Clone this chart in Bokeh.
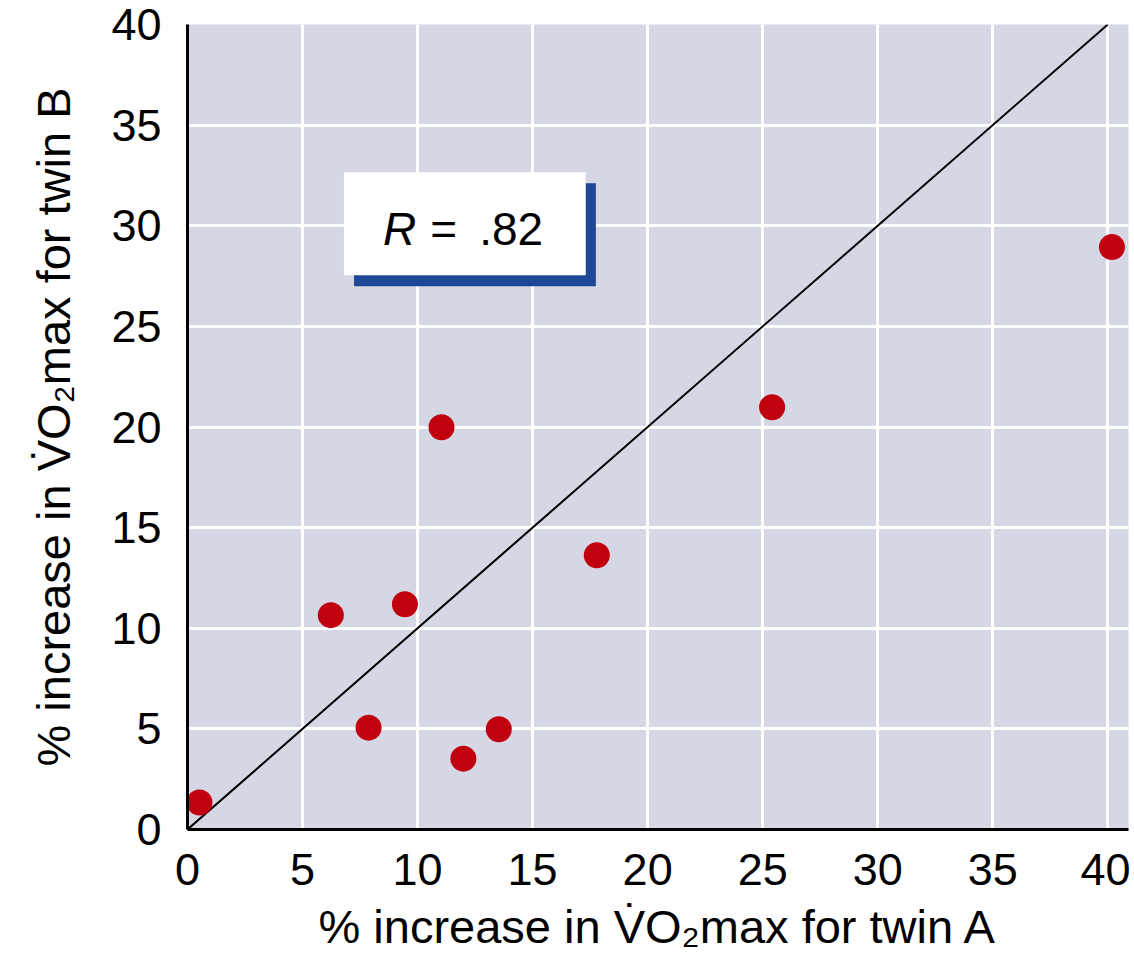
from bokeh.plotting import figure
from bokeh.models import Range1d, Label, FixedTicker, ColumnDataSource
from bokeh.embed import file_html
from bokeh.resources import INLINE

# Data
twin_a = [0.52, 6.23, 7.87, 9.45, 11.04, 11.99, 13.53, 17.79, 25.41, 40.18]
twin_b = [1.34, 10.65, 5.06, 11.19, 19.99, 3.52, 4.98, 13.63, 20.98, 28.94]
identity_x = [0, 40]
identity_y = [0, 40]
ticks = [0, 5, 10, 15, 20, 25, 30, 35, 40]
r_value = ".82"

FONT = "Liberation Sans"
BG = "#d5d7e4"
RED = "#c0000f"
BLUE = "#1e4797"

p = figure(width=1130, height=955, output_backend="svg", toolbar_location=None,
           x_range=Range1d(0, 40.9), y_range=Range1d(0, 40),
           min_border_left=187, min_border_right=2, min_border_top=24,
           min_border_bottom=125)
p.outline_line_color = None
p.background_fill_color = BG
p.border_fill_color = "white"

for ax in (p.xaxis[0], p.yaxis[0]):
    ax.ticker = FixedTicker(ticks=ticks)
    ax.axis_line_color = "black"
    ax.axis_line_width = 3
    ax.major_tick_line_color = None
    ax.minor_tick_line_color = None
    ax.major_label_text_font = FONT
    ax.major_label_text_font_size = "45px"
    ax.major_label_text_color = "black"
    ax.axis_label_text_font = FONT
    ax.axis_label_text_font_size = "47px"
    ax.axis_label_text_font_style = "normal"
    ax.axis_label_text_color = "black"

p.xaxis.axis_label = "% increase in V\u0307O\u2082max for twin A"
p.yaxis.axis_label = "% increase in V\u0307O\u2082max for twin B"
p.xaxis.major_label_standoff = 18
p.xaxis.axis_label_standoff = 12
p.yaxis.major_label_standoff = 20
p.yaxis.axis_label_standoff = 28

p.xgrid.ticker = FixedTicker(ticks=ticks)
p.ygrid.ticker = FixedTicker(ticks=ticks)
p.grid.grid_line_color = "white"
p.grid.grid_line_width = 3

# identity line
p.line(identity_x, identity_y, line_color="black", line_width=2)

# R box with shadow
p.quad(left=[7.24], right=[17.75], top=[32.11], bottom=[27.0],
       fill_color=BLUE, line_color=None)
p.quad(left=[6.80], right=[17.31], top=[32.66], bottom=[27.54],
       fill_color="white", line_color=None)

p.add_layout(Label(x=8.5, y=29.85, text="R", text_font=FONT,
                   text_font_size="46px", text_font_style="italic",
                   text_color="black", text_baseline="alphabetic"))
p.add_layout(Label(x=10.55, y=29.85, text="=", text_font=FONT,
                   text_font_size="46px", text_color="black",
                   text_baseline="alphabetic"))
p.add_layout(Label(x=12.68, y=29.85, text=r_value, text_font=FONT,
                   text_font_size="46px", text_color="black",
                   text_baseline="alphabetic"))

src = ColumnDataSource(dict(x=twin_a, y=twin_b))
p.scatter("x", "y", source=src, size=26, fill_color=RED, line_color=None)

open("out.html", "w").write(file_html(p, INLINE))
